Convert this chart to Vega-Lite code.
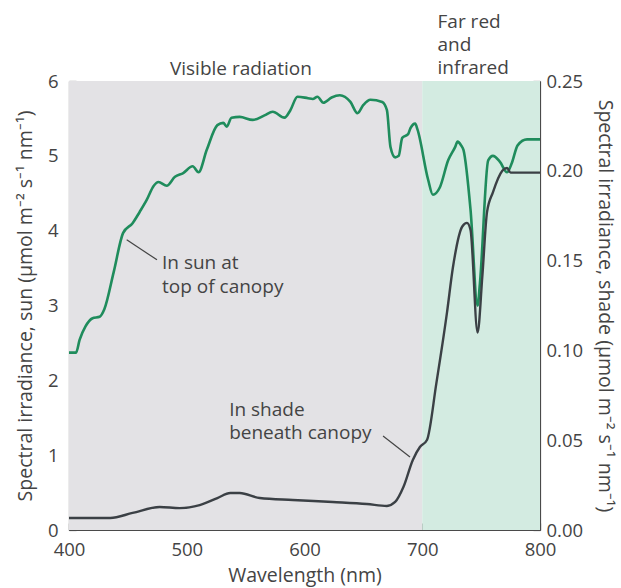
{
  "$schema": "https://vega.github.io/schema/vega-lite/v6.json",
  "width": 471,
  "height": 449,
  "autosize": {"type": "none"},
  "padding": {"left": 69, "top": 81, "right": 81, "bottom": 58},
  "background": "white",
  "config": {
    "view": {"stroke": null},
    "font": "Open Sans",
    "axis": {
      "domainColor": "#4a4a4a",
      "tickColor": "#4a4a4a",
      "labelColor": "#444444",
      "titleColor": "#444444",
      "labelFont": "Open Sans",
      "titleFont": "Open Sans",
      "labelFontSize": 18.5,
      "titleFontSize": 19.5,
      "titleFontWeight": "normal",
      "grid": false,
      "labelFlush": false,
      "tickSize": -7,
      "domainWidth": 1.2,
      "tickWidth": 1.2
    }
  },
  "datasets": {
    "regions": [
      {"x0": 400, "x1": 700, "region": "Visible"},
      {"x0": 700, "x1": 800, "region": "Far red"}
    ],
    "sun": [
      {"wl": 400, "v": 2.37}, {"wl": 406, "v": 2.37}, {"wl": 409, "v": 2.54}, {"wl": 414, "v": 2.72},
      {"wl": 420, "v": 2.83}, {"wl": 426, "v": 2.85}, {"wl": 430, "v": 2.95}, {"wl": 438, "v": 3.45},
      {"wl": 446, "v": 3.97}, {"wl": 454, "v": 4.1}, {"wl": 460, "v": 4.25}, {"wl": 466, "v": 4.41},
      {"wl": 472, "v": 4.6}, {"wl": 476, "v": 4.65}, {"wl": 483, "v": 4.6}, {"wl": 490, "v": 4.72},
      {"wl": 497, "v": 4.77}, {"wl": 505, "v": 4.86}, {"wl": 510, "v": 4.78}, {"wl": 517, "v": 5.08},
      {"wl": 526, "v": 5.41}, {"wl": 531, "v": 5.44}, {"wl": 534, "v": 5.39}, {"wl": 538, "v": 5.51},
      {"wl": 545, "v": 5.52}, {"wl": 556, "v": 5.48}, {"wl": 566, "v": 5.54}, {"wl": 573, "v": 5.59},
      {"wl": 583, "v": 5.51}, {"wl": 588, "v": 5.61}, {"wl": 594, "v": 5.79}, {"wl": 603, "v": 5.77},
      {"wl": 607, "v": 5.76}, {"wl": 611, "v": 5.79}, {"wl": 616, "v": 5.71}, {"wl": 623, "v": 5.78},
      {"wl": 630, "v": 5.81}, {"wl": 639, "v": 5.72}, {"wl": 645, "v": 5.57}, {"wl": 650, "v": 5.68},
      {"wl": 656, "v": 5.75}, {"wl": 666, "v": 5.72}, {"wl": 670, "v": 5.61}, {"wl": 673, "v": 5.12},
      {"wl": 677, "v": 4.98}, {"wl": 680, "v": 5.0}, {"wl": 683, "v": 5.24}, {"wl": 688, "v": 5.29},
      {"wl": 690, "v": 5.37}, {"wl": 694, "v": 5.43}, {"wl": 696, "v": 5.35}, {"wl": 705, "v": 4.68},
      {"wl": 709, "v": 4.48}, {"wl": 715, "v": 4.58}, {"wl": 722, "v": 4.94}, {"wl": 728, "v": 5.12},
      {"wl": 730, "v": 5.19}, {"wl": 733, "v": 5.14}, {"wl": 735, "v": 5.08}, {"wl": 741, "v": 4.28},
      {"wl": 747, "v": 3.0}, {"wl": 749, "v": 3.3}, {"wl": 756, "v": 4.94}, {"wl": 760, "v": 5.0},
      {"wl": 766, "v": 4.92}, {"wl": 772, "v": 4.78}, {"wl": 776, "v": 4.9}, {"wl": 781, "v": 5.14},
      {"wl": 789, "v": 5.22}, {"wl": 797, "v": 5.22}, {"wl": 800, "v": 5.22}
    ],
    "shade": [
      {"wl": 400, "s": 0.0067}, {"wl": 435, "s": 0.0067}, {"wl": 454, "s": 0.0095}, {"wl": 477, "s": 0.0128},
      {"wl": 494, "s": 0.0122}, {"wl": 511, "s": 0.0139}, {"wl": 526, "s": 0.0178}, {"wl": 537, "s": 0.0206},
      {"wl": 545, "s": 0.0206}, {"wl": 562, "s": 0.0178}, {"wl": 590, "s": 0.0167}, {"wl": 624, "s": 0.0156},
      {"wl": 653, "s": 0.0145}, {"wl": 670, "s": 0.0134}, {"wl": 677, "s": 0.0156}, {"wl": 684, "s": 0.0239},
      {"wl": 692, "s": 0.039}, {"wl": 698, "s": 0.0462}, {"wl": 704, "s": 0.0501}, {"wl": 712, "s": 0.0818},
      {"wl": 721, "s": 0.121}, {"wl": 726, "s": 0.146}, {"wl": 734, "s": 0.169}, {"wl": 738, "s": 0.171},
      {"wl": 741, "s": 0.167}, {"wl": 747, "s": 0.11}, {"wl": 751, "s": 0.141}, {"wl": 755, "s": 0.177},
      {"wl": 760, "s": 0.188}, {"wl": 768, "s": 0.2}, {"wl": 772, "s": 0.2016}, {"wl": 775, "s": 0.199},
      {"wl": 800, "s": 0.199}
    ],
    "labels": [
      {"wl": 546, "v": 6.16, "text": "Visible radiation", "anchor": "center"},
      {"wl": 713, "v": 6.79, "text": "Far red", "anchor": "left"},
      {"wl": 713, "v": 6.48, "text": "and", "anchor": "left"},
      {"wl": 713, "v": 6.17, "text": "infrared", "anchor": "left"},
      {"wl": 479, "v": 3.57, "text": "In sun at", "anchor": "left"},
      {"wl": 479, "v": 3.25, "text": "top of canopy", "anchor": "left"},
      {"wl": 536, "v": 1.6, "text": "In shade", "anchor": "left"},
      {"wl": 536, "v": 1.3, "text": "beneath canopy", "anchor": "left"}
    ],
    "leaders": [
      {"wl": 449, "wl2": 474.7, "v": 3.88, "v2": 3.61},
      {"wl": 666.7, "wl2": 689.6, "v": 1.256, "v2": 0.976}
    ]
  },
  "layer": [
    {
      "layer": [
        {
          "data": {"name": "regions"},
          "mark": {"type": "rect"},
          "encoding": {
            "x": {"field": "x0", "type": "quantitative", "scale": {"domain": [400, 800], "nice": false, "zero": false}},
            "x2": {"field": "x1"},
            "color": {"field": "region", "type": "nominal", "legend": null,
              "scale": {"domain": ["Visible", "Far red"], "range": ["#e3e2e5", "#d3ebe1"]}}
          }
        },
        {
          "data": {"name": "sun"},
          "mark": {"type": "line", "interpolate": "monotone", "color": "#1f8c5c", "strokeWidth": 2.6},
          "encoding": {
            "x": {"field": "wl", "type": "quantitative",
              "scale": {"domain": [400, 800], "nice": false, "zero": false},
              "axis": {"values": [400, 500, 600, 700, 800], "title": "Wavelength (nm)", "labelPadding": 17, "titlePadding": 8}},
            "y": {"field": "v", "type": "quantitative",
              "scale": {"domain": [0, 6], "nice": false},
              "axis": {"orient": "left", "values": [0, 1, 2, 3, 4, 5, 6], "format": "d",
                "title": "Spectral irradiance, sun (μmol m⁻² s⁻¹ nm⁻¹)", "labelPadding": 18, "titlePadding": 12}}
          }
        },
        {
          "data": {"name": "leaders"},
          "mark": {"type": "rule", "color": "#444444", "strokeWidth": 1.2},
          "encoding": {
            "x": {"field": "wl", "type": "quantitative", "scale": {"domain": [400, 800], "nice": false, "zero": false}},
            "x2": {"field": "wl2"},
            "y": {"field": "v", "type": "quantitative"},
            "y2": {"field": "v2"}
          }
        },
        {
          "data": {"name": "labels"},
          "transform": [{"filter": "datum.anchor == 'center'"}],
          "mark": {"type": "text", "align": "center", "baseline": "middle", "fontSize": 19, "color": "#444444", "font": "Open Sans"},
          "encoding": {
            "x": {"field": "wl", "type": "quantitative", "scale": {"domain": [400, 800], "nice": false, "zero": false}},
            "y": {"field": "v", "type": "quantitative"},
            "text": {"field": "text"}
          }
        },
        {
          "data": {"name": "labels"},
          "transform": [{"filter": "datum.anchor == 'left'"}],
          "mark": {"type": "text", "align": "left", "baseline": "middle", "fontSize": 19, "color": "#444444", "font": "Open Sans"},
          "encoding": {
            "x": {"field": "wl", "type": "quantitative", "scale": {"domain": [400, 800], "nice": false, "zero": false}},
            "y": {"field": "v", "type": "quantitative"},
            "text": {"field": "text"}
          }
        }
      ]
    },
    {
      "data": {"name": "shade"},
      "mark": {"type": "line", "interpolate": "monotone", "color": "#3b4045", "strokeWidth": 2.4},
      "encoding": {
        "x": {"field": "wl", "type": "quantitative", "scale": {"domain": [400, 800], "nice": false, "zero": false}},
        "y": {"field": "s", "type": "quantitative",
          "scale": {"domain": [0, 0.25], "nice": false},
          "axis": {"orient": "right", "values": [0, 0.05, 0.1, 0.15, 0.2, 0.25], "format": ".2f",
            "title": "Spectral irradiance, shade (μmol m⁻² s⁻¹ nm⁻¹)", "labelPadding": 13, "titlePadding": 12}}
      }
    }
  ],
  "resolve": {"scale": {"y": "independent"}}
}
